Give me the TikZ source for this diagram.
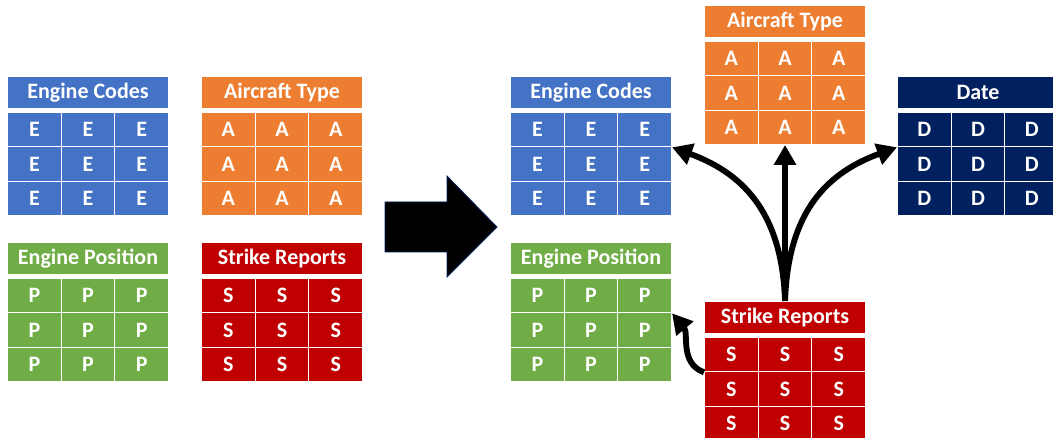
\documentclass[tikz,border=0pt]{standalone}
\usepackage{fontspec}
\setmainfont{Carlito}
\usepackage{tikz}
\usetikzlibrary{arrows.meta}
\definecolor{ecblue}{HTML}{4472C4}
\definecolor{atorange}{HTML}{ED7D31}
\definecolor{epgreen}{HTML}{70AD47}
\definecolor{srred}{HTML}{C00000}
\definecolor{dtnavy}{HTML}{002060}
\tikzset{
	tblhead/.style={draw=white, line width=0.8pt, text=white, inner sep=0pt, anchor=north west,
		font=\bfseries\fontsize{16.5}{19}\selectfont, minimum width=120.75pt, minimum height=24pt},
	tblcell/.style={tblhead, minimum width=40.25pt, minimum height=25.7pt},
	flow/.style={line width=4.4pt, -{Triangle[length=15pt,width=16pt]}}
}
% table: [name](left,top)(colour:title:letter), coordinates in pixels
\def\datatable[#1](#2,#3)(#4:#5:#6){%
	\node[tblhead, fill=#4] (#1-head) at (#2,#3) {#5};
	\foreach \r in {1,2,3}{\foreach \c in {1,2,3}{
		\node[tblcell, fill=#4] (#1-\r-\c) at ({#2+(\c-1)*161/3}, {#3-36-(\r-1)*34.3}) {#6};
	}}
}
\begin{document}
\begin{tikzpicture}[x=0.75pt, y=0.75pt]
		%%%%% START %%%%%
		\clip (0,0) rectangle (1053,-438);
		
		\datatable[ec](7,-76)(ecblue:Engine Codes:E);
		\datatable[at](201,-76)(atorange:Aircraft Type:A);
		\datatable[ep](7,-242)(epgreen:Engine Position:P);
		\datatable[sr](201,-242)(srred:Strike Reports:S);
		
		\draw[fill=black, draw=dtnavy, line width=0.6pt] (385,-202) -- (447,-202) -- (447,-176) -- (497,-227)
			-- (447,-277) -- (447,-252) -- (385,-252) -- cycle;
		
		\datatable[ecb](510,-76)(ecblue:Engine Codes:E);
		\datatable[atb](704,-5)(atorange:Aircraft Type:A);
		\datatable[dtb](897,-76)(dtnavy:Date:D);
		\datatable[epb](510,-242)(epgreen:Engine Position:P);
		\datatable[srb](704,-301)(srred:Strike Reports:S);
		
		\draw[flow] (srb-head.north) -- (atb-3-2.south);
		\draw[flow] (srb-head.north) to[out=92, in=-20, looseness=1.1] (ecb-1-3.south east);
		\draw[flow] (srb-head.north) to[out=88, in=200, looseness=1.1] (dtb-1-1.south west);
		\draw[flow] (srb-1-1.south west) to[out=160, in=-50] (epb-1-3.south east);
		%%%%% END %%%%%
	\end{tikzpicture}
\end{document}
